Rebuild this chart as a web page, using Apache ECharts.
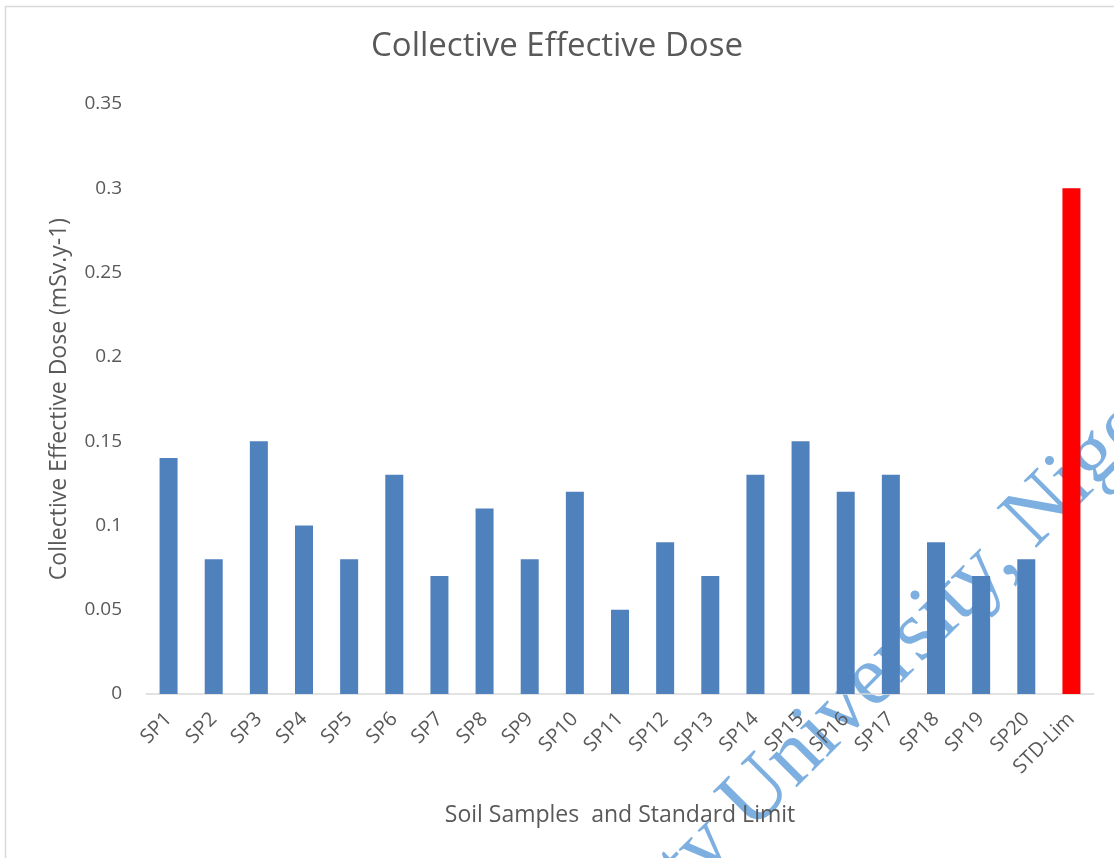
<!DOCTYPE html>
<html>
<head>
<meta charset="utf-8">
<style>
  html, body { margin: 0; padding: 0; background: #ffffff; }
  #chart { width: 1114px; height: 858px; }
</style>
<script src="https://cdn.jsdelivr.net/npm/echarts@6/dist/echarts.min.js"></script>
</head>
<body>
<div id="chart"></div>
<script>
// Soil sample categories plus the standard limit bar
const categories = ['SP1','SP2','SP3','SP4','SP5','SP6','SP7','SP8','SP9','SP10',
  'SP11','SP12','SP13','SP14','SP15','SP16','SP17','SP18','SP19','SP20','STD-Lim'];
// Collective effective dose per soil sample (mSv.y-1)
const sampleDose = [0.14, 0.08, 0.15, 0.10, 0.08, 0.13, 0.07, 0.11, 0.08, 0.12,
  0.05, 0.09, 0.07, 0.13, 0.15, 0.12, 0.13, 0.09, 0.07, 0.08];
// Standard limit (mSv.y-1)
const stdLimit = 0.3;

const FONT = '"Open Sans", sans-serif';
const GREY = '#595959';

const sampleData = categories.map((c, i) => i < sampleDose.length ? sampleDose[i] : null);
const limitData = categories.map((c, i) => i === categories.length - 1 ? stdLimit : null);

const chart = echarts.init(document.getElementById('chart'), null, { renderer: 'canvas' });
chart.setOption({
  backgroundColor: '#ffffff',
  animation: false,
  title: {
    text: 'Collective Effective Dose',
    left: 'center',
    top: 25,
    textStyle: { fontFamily: FONT, fontSize: 33, fontWeight: 'normal', color: GREY }
  },
  grid: { left: 146, right: 20, top: 104, bottom: 164 },
  xAxis: {
    type: 'category',
    data: categories,
    name: 'Soil Samples  and Standard Limit',
    nameLocation: 'middle',
    nameGap: 110,
    nameTextStyle: { fontFamily: FONT, fontSize: 23, color: GREY },
    axisLine: { lineStyle: { color: '#d9d9d9', width: 1.5 } },
    axisTick: { show: false },
    axisLabel: { interval: 0, rotate: 45, margin: 22, fontFamily: FONT, fontSize: 20, color: GREY }
  },
  yAxis: {
    type: 'value',
    min: 0,
    max: 0.35,
    interval: 0.05,
    name: 'Collective Effective Dose (mSv.y-1)',
    nameLocation: 'middle',
    nameGap: 75,
    nameTextStyle: { fontFamily: FONT, fontSize: 23, color: GREY },
    axisLine: { show: false },
    axisTick: { show: false },
    splitLine: { show: false },
    axisLabel: { margin: 24, fontFamily: FONT, fontSize: 19, color: GREY }
  },
  series: [
    {
      name: 'Soil Samples',
      type: 'bar',
      data: sampleData,
      barWidth: 18,
      barGap: '-100%',
      itemStyle: { color: '#4f81bd' },
      z: 2
    },
    {
      name: 'Standard Limit',
      type: 'bar',
      data: limitData,
      barWidth: 18,
      barGap: '-100%',
      itemStyle: { color: '#ff0000' },
      z: 3
    }
  ],
  graphic: [
    {
      type: 'rect',
      left: 3, top: 4, z: 0,
      shape: { width: 1130, height: 880 },
      style: { fill: 'none', stroke: '#d9d9d9', lineWidth: 1.5 },
      silent: true
    },
    {
      // diagonal watermark, drawn beneath the bars
      type: 'text',
      x: 656, y: 896,
      rotation: Math.PI / 4,
      z: 0,
      silent: true,
      style: {
        text: 'ity University, Nigeria',
        font: '86px "Liberation Serif", serif',
        fill: 'rgb(125,176,224)',
        textAlign: 'left',
        textVerticalAlign: 'middle'
      }
    }
  ]
});
</script>
</body>
</html>
